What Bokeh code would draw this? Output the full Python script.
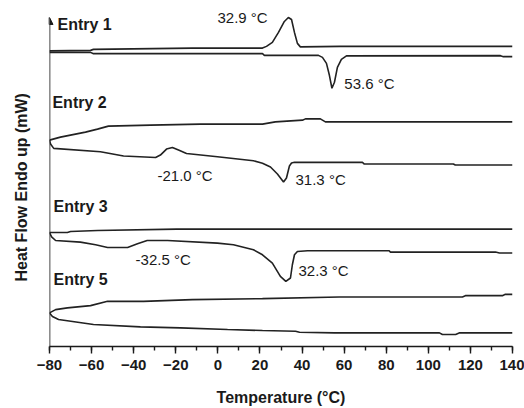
import math
from bokeh.plotting import figure
from bokeh.models import Range1d, Label, Arrow, NormalHead, SingleIntervalTicker, Title
from bokeh.embed import file_html
from bokeh.resources import INLINE

# ---------------- data (temperature in degC, heat flow in arbitrary stacked units) ----------------
e1_cool_t = [-80, -60.5, -59.1, -12.1, 21.2, 23.1, 25.9, 28.8, 31.6, 33.5, 35.0, 36.4, 37.8, 39.2, 58.2, 140]
e1_cool_h = [296.5, 297, 298, 299.3, 299.3, 301, 305, 315, 326, 330, 328, 315, 304, 300.5, 301, 301]
e1_heat_t = [-80, -60.5, -59.1, 21.2, 22.1, 47.8, 49.7, 51.6, 53.0, 54.2, 55.4, 56.8, 58.7, 61.1, 134.3, 135.7, 140]
e1_heat_h = [295, 295, 293.7, 293.7, 292, 292, 290, 284, 272, 259, 265, 280, 288, 291.5, 291.7, 290.7, 290.7]

e2_cool_t = [-80, -74.8, -62.9, -57.2, -52.0, -32.0, -8.3, 21.2, 27.3, 40.2, 41.6, 48.7, 51.1, 140]
e2_cool_h = [207, 210, 215, 218, 221, 222, 223, 223, 225.3, 227, 228.3, 228.3, 225.3, 225.3]
e2_heat_t = [-80, -79.5, -78.0, -55.8, -44.8, -29.6, -27.3, -24.4, -21.6, -18.7, -14.9, -0.2, 16.9, 21.2,
             25.0, 28.3, 31.2, 32.6, 34.0, 35.0, 36.4, 68.7, 69.6, 111.9, 112.8, 140]
e2_heat_h = [207, 203, 198.7, 195.3, 191, 189.5, 192, 198, 199.5, 197, 193.5, 190.3, 186.3, 183.7,
             180, 173, 165, 169, 181, 184, 184.7, 184.7, 183, 183, 182, 182]

e3_cool_t = [-80, -71.5, -70.0, -57.2, -19.6, 140]
e3_cool_h = [114.3, 114.3, 115.3, 116.3, 117.7, 117.7]
e3_heat_t = [-80, -79.0, -77.1, -65.3, -58.1, -52.4, -42.9, -38.2, -33.6, -23.9, -0.2, 7.4, 16.9, 21.2,
             25.9, 29.7, 32.3, 34.5, 35.4, 36.4, 37.8, 42.6, 81.4, 82.0, 131.9, 133.8, 140]
e3_heat_h = [114.3, 110, 106.3, 104.7, 102, 99.3, 99.3, 103, 106.3, 106.3, 103.7, 102, 97, 92,
             83.7, 70.3, 65.3, 68.7, 82, 92, 95.3, 96, 96, 94.7, 94.7, 93.7, 93.7]

e5_cool_t = [-80, -77.1, -71.5, -60.5, -52.4, -35.3, -12.1, 21.2, 57.7, 116.2, 117.6, 135.2, 136.6, 140]
e5_cool_h = [33.7, 37, 38.7, 41, 45.3, 45.3, 47, 48, 49.7, 49.7, 51, 51, 52.3, 52.3]
e5_heat_t = [-80, -78.6, -75.7, -59.1, -36.8, -17.8, 4.6, 21.2, 36.9, 38.8, 55.4, 105.3, 106.7, 113.0, 114.9, 140]
e5_heat_h = [33.7, 30, 27, 22, 19.7, 18.7, 17, 16, 15.3, 14.3, 13.7, 13.7, 12, 12, 13.7, 13.7]

entry_names = ["Entry 1", "Entry 2", "Entry 3", "Entry 5"]
entry_label_t = [-76.2, -78.6, -78.1, -78.1]
entry_label_h = [323, 245, 140, 67]

peak_texts = ["32.9 \u00b0C", "53.6 \u00b0C", "-21.0 \u00b0C", "31.3 \u00b0C", "-32.5 \u00b0C", "32.3 \u00b0C"]
peak_label_t = [-0.2, 60.1, -28.7, 36.9, -39.1, 38.3]
peak_label_h = [330, 264, 172, 167, 87, 76.3]

x_title = "Temperature (\u00b0C)"
y_title = "Heat Flow Endo up (mW)"
x_start, x_end = -80, 140

# ---------------- figure ----------------
p = figure(width=524, height=408, output_backend="svg", toolbar_location=None,
           x_range=Range1d(x_start, x_end), y_range=Range1d(0, 342),
           min_border_left=49, min_border_right=12, min_border_top=5, min_border_bottom=61)
p.outline_line_color = None
p.xgrid.visible = False
p.ygrid.visible = False
p.background_fill_color = "white"
p.border_fill_color = "white"

FONT = "Liberation Sans"
INK = "#1a1a1a"

curves = [(e1_cool_t, e1_cool_h), (e1_heat_t, e1_heat_h),
          (e2_cool_t, e2_cool_h), (e2_heat_t, e2_heat_h),
          (e3_cool_t, e3_cool_h), (e3_heat_t, e3_heat_h),
          (e5_cool_t, e5_cool_h), (e5_heat_t, e5_heat_h)]
for t, h in curves:
    p.line(t, h, line_color="#222222", line_width=1.6)

# x axis
xa = p.xaxis[0]
xa.ticker = SingleIntervalTicker(interval=20, num_minor_ticks=2)
xa.axis_label = x_title
xa.axis_label_text_font = FONT
xa.axis_label_text_font_style = "bold"
xa.axis_label_text_font_size = "16px"
xa.axis_label_text_color = INK
xa.axis_label_standoff = 16
xa.major_label_text_font = FONT
xa.major_label_text_font_style = "bold"
xa.major_label_text_font_size = "15px"
xa.major_label_text_color = INK
xa.major_label_standoff = 6
xa.axis_line_color = INK
xa.axis_line_width = 1.6
xa.major_tick_line_color = INK
xa.major_tick_line_width = 1.4
xa.minor_tick_line_color = INK
xa.minor_tick_line_width = 1.4
xa.major_tick_in = 0
xa.major_tick_out = 7
xa.minor_tick_in = 0
xa.minor_tick_out = 4

# y axis: no ticks; axis line drawn as an arrow, title as a side title
p.yaxis.visible = False
# thin blank spacer next to the frame, then the y title further out
p.add_layout(Title(text=" ", text_font=FONT, text_font_size="6px", standoff=1), "left")
p.add_layout(Title(text=y_title, align="left", offset=65, vertical_align="top", standoff=17,
                   text_font=FONT, text_font_style="bold", text_font_size="16px",
                   text_color=INK), "left")

p.add_layout(Arrow(end=NormalHead(size=7, fill_color=INK, line_color=INK, line_width=1),
                   x_start=x_start, y_start=0, x_end=x_start, y_end=330,
                   line_color=INK, line_width=1.6))

for name, t, h in zip(entry_names, entry_label_t, entry_label_h):
    p.add_layout(Label(x=t, y=h, text=name, text_font=FONT, text_font_style="bold",
                       text_font_size="16px", text_color=INK, text_baseline="middle"))

for txt, t, h in zip(peak_texts, peak_label_t, peak_label_h):
    p.add_layout(Label(x=t, y=h, text=txt, text_font=FONT, text_font_size="15px",
                       text_color=INK, text_baseline="middle"))

open("out.html", "w").write(file_html(p, INLINE))
